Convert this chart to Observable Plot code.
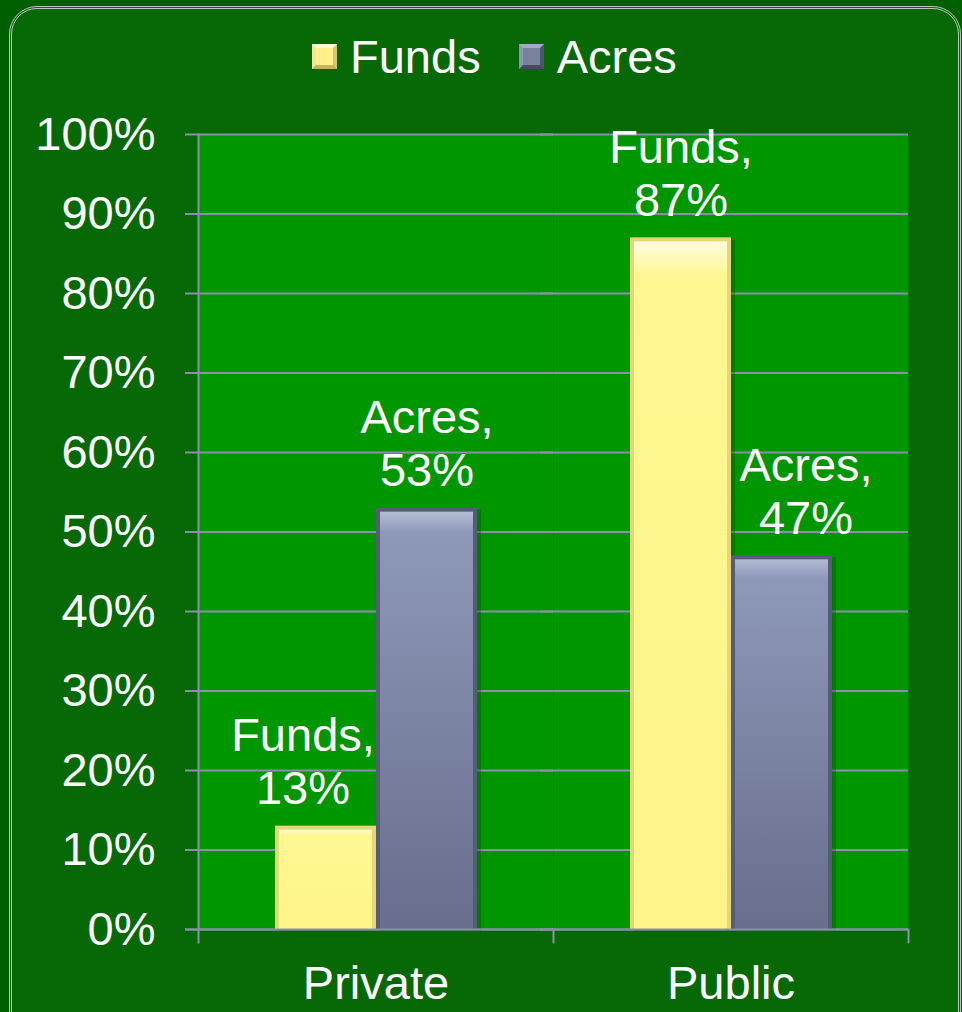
<!DOCTYPE html>
<html>
<head>
<meta charset="utf-8">
<script src="https://cdn.jsdelivr.net/npm/d3@7"></script>
<script src="https://cdn.jsdelivr.net/npm/@observablehq/plot@0.6"></script>
<style>
  html, body { margin: 0; padding: 0; width: 962px; height: 1012px; overflow: hidden;
    background: #005f00; font-family: "Liberation Sans", Arial, sans-serif; }
  #panel { position: absolute; left: 9px; top: 6px; width: 952px; height: 1040px; box-sizing: border-box;
    border: 3px double #b8c6b8; border-radius: 28px; background: #066906; }
  #legend { position: absolute; left: 312px; top: 33px; display: flex; align-items: center;
    color: #fff; font-size: 47px; line-height: 47px; }
  .sw { width: 25px; height: 25px; box-sizing: border-box; border: 4px solid; margin-right: 13px; }
  .sw.funds { background: #fff08c; border-color: #fffbd6 #d6c66a #c6b658 #f3e6a0; }
  .sw.acres { background: #79819d; border-color: #a3abc6 #4f556f #444a62 #8c94b0; margin-left: 38px; }
  #chart { position: absolute; left: 0; top: 88px; }
</style>
</head>
<body>
<svg width="0" height="0" style="position:absolute">
  <defs>
    <linearGradient id="fundsFace" x1="0" y1="0" x2="0" y2="1">
      <stop offset="0" stop-color="#fffce0"/>
      <stop offset="0.05" stop-color="#fff792"/>
      <stop offset="1" stop-color="#fff48a"/>
    </linearGradient>
    <linearGradient id="acresFace" x1="0" y1="0" x2="0" y2="1">
      <stop offset="0" stop-color="#b4bcd4"/>
      <stop offset="0.05" stop-color="#8e98b8"/>
      <stop offset="1" stop-color="#686e8c"/>
    </linearGradient>
  </defs>
</svg>
<div id="panel"></div>
<div id="legend">
  <div class="sw funds"></div><span>Funds</span>
  <div class="sw acres"></div><span>Acres</span>
</div>
<div id="chart"></div>
<script>
const categories = ["Private", "Public"];
const seriesNames = ["Funds", "Acres"];
const funds = [13, 87];
const acres = [53, 47];
const yTicks = [0, 10, 20, 30, 40, 50, 60, 70, 80, 90, 100];

const rows = [];
categories.forEach((c, i) => {
  rows.push({category: c, series: "Funds", value: funds[i]});
  rows.push({category: c, series: "Acres", value: acres[i]});
});

const gridColor = "#8a8fab";
const plotBg = "#009600";
const isFunds = d => d.series === "Funds";
const isAcres = d => d.series === "Acres";
const labelText = d => `${d.series},\n${d.value}%`;

const barBase = {fx: "category", x: "series", y: "value"};
const labelStyle = {text: labelText, lineAnchor: "bottom", dy: -22, fill: "white", fontSize: 47, lineHeight: 1.13};

const plot = Plot.plot({
  width: 962,
  height: 924,
  marginLeft: 198,
  marginRight: 54,
  marginTop: 46,
  marginBottom: 83,
  style: {background: "transparent", color: "white", fontFamily: '"Liberation Sans", Arial, sans-serif', overflow: "visible"},
  fx: {domain: categories, padding: 0, label: null},
  x: {domain: seriesNames, paddingInner: 0, paddingOuter: 0.757, axis: null},
  y: {domain: [0, 100], label: null},
  marks: [
    Plot.frame({fill: plotBg}),
    Plot.ruleY(yTicks, {stroke: gridColor, strokeWidth: 2, insetLeft: -13}),
    Plot.frame({anchor: "left", stroke: gridColor, strokeWidth: 2, insetBottom: -13, facetAnchor: "left"}),
    Plot.vector([0], {frameAnchor: "bottom-right", length: 13, rotate: 180, anchor: "start",
      stroke: gridColor, strokeWidth: 2,
      shape: {draw(ctx, l) { ctx.moveTo(0, 0); ctx.lineTo(0, -l); }}}),
    // shadows
    Plot.barY(rows, {...barBase, fill: "#003a00", fillOpacity: 0.3, dx: 4, dy: 2}),
    // edges
    Plot.barY(rows, {...barBase, filter: isFunds, fill: "#e6d676"}),
    Plot.barY(rows, {...barBase, filter: isAcres, fill: "#565c78"}),
    // faces
    Plot.barY(rows, {...barBase, filter: isFunds, fill: "url(#fundsFace)", insetLeft: 4, insetRight: 4, insetTop: 4}),
    Plot.barY(rows, {...barBase, filter: isAcres, fill: "url(#acresFace)", insetLeft: 4, insetRight: 4, insetTop: 4}),
    Plot.ruleY([0], {stroke: gridColor, strokeWidth: 2, insetLeft: -13}),
    // value labels
    Plot.text(rows, {...barBase, ...labelStyle, filter: d => d.category === "Private" && d.series === "Funds", dx: -23}),
    Plot.text(rows, {...barBase, ...labelStyle, filter: d => d.category === "Public" && d.series === "Acres", dx: 24}),
    Plot.text(rows, {...barBase, ...labelStyle, filter: d => (d.category === "Private") === (d.series === "Acres")}),
    Plot.axisY(yTicks, {tickSize: 0, tickPadding: 43, tickFormat: d => d + "%", fontSize: 47, fill: "white", label: null}),
    Plot.axisFx({anchor: "bottom", tickSize: 0, tickPadding: 36, fontSize: 47, fill: "white", label: null})
  ]
});
document.getElementById("chart").appendChild(plot);
</script>
</body>
</html>
